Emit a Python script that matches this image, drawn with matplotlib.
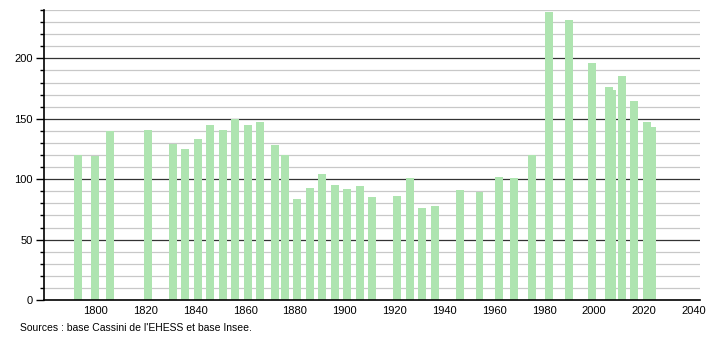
import matplotlib
matplotlib.use("Agg")
import matplotlib.pyplot as plt
import numpy as np

years = [1793, 1800, 1806, 1821, 1831, 1836, 1841, 1846, 1851, 1856, 1861, 1866,
         1872, 1876, 1881, 1886, 1891, 1896, 1901, 1906, 1911, 1921, 1926, 1931,
         1936, 1946, 1954, 1962, 1968, 1975, 1982, 1990, 1999, 2006, 2007, 2011,
         2016, 2021, 2023]
population = [120, 119, 140, 141, 129, 125, 133, 145, 141, 150, 145, 147,
              128, 120, 84, 93, 104, 95, 92, 94, 85, 86, 101, 76,
              78, 91, 89, 102, 101, 120, 238, 232, 196, 176, 174, 185,
              165, 147, 143]
xticks = [1800, 1820, 1840, 1860, 1880, 1900, 1920, 1940, 1960, 1980, 2000, 2020, 2040]
yticks = [0, 50, 100, 150, 200]
source = "Sources : base Cassini de l'EHESS et base Insee."

plt.rcParams['font.family'] = ['Liberation Sans', 'DejaVu Sans']

fig = plt.figure(figsize=(7.1, 3.4), dpi=100)
ax = fig.add_axes([44/710, 40/340, 656/710, 290/340])

ax.set_xlim(1779.4, 2042.4)
ax.set_ylim(0, 240)

# gridlines
for v in range(10, 241, 10):
    if v % 50 == 0:
        ax.axhline(v, color='#333333', lw=0.9, zorder=1)
    else:
        ax.axhline(v, color='#c8c8c8', lw=0.9, zorder=1)

ax.bar(years, population, width=3.2, color='#aee4b0', zorder=2, linewidth=0)

ax.set_yticks(yticks)
ax.set_yticks(np.arange(0, 241, 10), minor=True)
ax.set_xticks(xticks)
ax.tick_params(axis='y', which='major', length=6, width=1, labelsize=8, pad=2)
ax.tick_params(axis='y', which='minor', length=3, width=1)
ax.tick_params(axis='x', length=0, labelsize=8, pad=4)

for s in ['top', 'right']:
    ax.spines[s].set_visible(False)
ax.spines['left'].set_linewidth(1.2)
ax.spines['bottom'].set_linewidth(1.2)

fig.text(20/710, 1 - 328/340, source, fontsize=7.5, va='center', ha='left')

fig.savefig('out.png', dpi=100)
